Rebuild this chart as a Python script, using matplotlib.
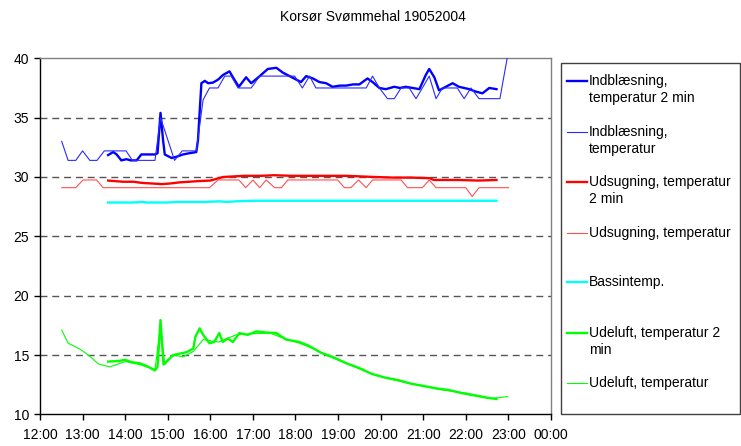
import matplotlib
matplotlib.use("Agg")
import matplotlib.pyplot as plt
from matplotlib.lines import Line2D
from matplotlib.patches import Rectangle
from matplotlib.ticker import FixedLocator, FuncFormatter

plt.rcParams['font.family'] = ['Liberation Sans', 'DejaVu Sans']

title = "Korsør Svømmehal 19052004"

# time in hours (12.5 = 12:30)
ind2_t = [13.60, 13.72, 13.80, 13.91, 14.03, 14.13, 14.27, 14.38, 14.55, 14.70, 14.76, 14.83, 14.89, 14.93,
          15.09, 15.20, 15.36, 15.50, 15.67, 15.71, 15.79, 15.87, 15.95, 16.06, 16.18, 16.30, 16.45, 16.53,
          16.67, 16.84, 16.96, 17.16, 17.35, 17.55, 17.70, 17.86, 18.02, 18.13, 18.25, 18.41, 18.56, 18.72,
          18.87, 19.05, 19.19, 19.35, 19.50, 19.69, 19.81, 19.97, 20.12, 20.32, 20.45, 20.59, 20.75, 20.91,
          21.06, 21.14, 21.26, 21.37, 21.53, 21.69, 21.84, 21.96, 22.08, 22.23, 22.39, 22.55, 22.72]
ind2_v = [31.85, 32.1, 31.9, 31.4, 31.5, 31.4, 31.4, 31.9, 31.9, 31.9, 32.0, 35.4, 33.1, 31.9,
          31.6, 31.7, 31.9, 32.0, 32.1, 33.1, 37.9, 38.1, 37.9, 37.95, 38.2, 38.6, 38.9, 38.4,
          37.6, 38.4, 37.9, 38.5, 39.1, 39.2, 38.8, 38.5, 38.2, 38.0, 38.5, 38.3, 38.0, 37.9,
          37.6, 37.7, 37.7, 37.8, 37.8, 38.3, 38.0, 37.5, 37.4, 37.6, 37.5, 37.6, 37.5, 37.4,
          38.6, 39.1, 38.4, 37.3, 37.6, 37.9, 37.6, 37.5, 37.4, 37.2, 37.05, 37.5, 37.4]

ind_t = [12.51, 12.66, 12.84, 13.00, 13.17, 13.34, 13.51, 14.02, 14.17, 14.70, 14.83, 15.16, 15.34,
         15.67, 15.83, 15.98, 16.18, 16.34, 16.49, 16.65, 16.96, 17.16, 17.98, 18.16, 18.33, 18.48,
         19.66, 19.81, 19.97, 20.16, 20.32, 20.48, 20.67, 20.83, 20.98, 21.14, 21.30, 21.45, 21.80,
         21.96, 22.12, 22.31, 22.80, 23.00]
ind_v = [33.0, 31.4, 31.4, 32.2, 31.4, 31.4, 32.2, 32.2, 31.4, 31.4, 35.0, 31.4, 32.2,
         32.2, 36.5, 37.5, 37.5, 38.5, 38.5, 37.5, 37.5, 38.5, 38.5, 37.5, 38.5, 37.5,
         37.5, 38.5, 37.5, 36.6, 36.6, 37.5, 37.5, 36.6, 37.5, 38.5, 36.6, 37.5, 37.5,
         36.6, 37.5, 36.6, 36.6, 40.6]

uds2_t = [13.60, 13.95, 14.20, 14.40, 14.65, 14.85, 15.05, 15.28, 15.50, 15.70, 16.00, 16.15, 16.30,
          16.55, 16.80, 17.20, 17.50, 17.90, 18.20, 18.70, 19.20, 19.85, 20.30, 20.70, 21.15, 21.25,
          21.80, 22.30, 22.72]
uds2_v = [29.7, 29.6, 29.6, 29.5, 29.45, 29.4, 29.45, 29.55, 29.6, 29.65, 29.7, 29.85, 30.0,
          30.05, 30.1, 30.1, 30.15, 30.1, 30.1, 30.1, 30.1, 30.0, 29.95, 29.95, 29.9, 29.75,
          29.75, 29.7, 29.75]

uds_t = [12.51, 12.84, 13.01, 13.33, 13.48, 15.98, 16.18, 16.67, 16.83, 17.00, 17.16, 17.31, 17.51,
         17.67, 17.82, 18.99, 19.15, 19.30, 19.48, 19.66, 19.81, 20.48, 20.63, 20.98, 21.14, 21.30,
         22.00, 22.15, 22.31, 23.00]
uds_v = [29.1, 29.1, 29.75, 29.75, 29.1, 29.1, 29.75, 29.75, 29.1, 29.75, 29.1, 29.75, 29.1,
         29.1, 29.75, 29.75, 29.1, 29.1, 29.75, 29.1, 29.75, 29.75, 29.1, 29.1, 29.75, 29.1,
         29.1, 28.35, 29.1, 29.1]

bas_t = [13.60, 14.20, 14.40, 14.50, 15.00, 15.20, 15.90, 16.20, 16.40, 16.60, 17.00, 22.72]
bas_v = [27.85, 27.85, 27.9, 27.85, 27.85, 27.9, 27.9, 27.95, 27.9, 27.95, 28.0, 28.0]

ude2_t = [13.60, 13.85, 14.00, 14.15, 14.35, 14.55, 14.70, 14.76, 14.83, 14.90, 15.13, 15.45, 15.60,
          15.65, 15.75, 15.83, 15.98, 16.09, 16.21, 16.29, 16.41, 16.53, 16.68, 16.88, 17.08, 17.30,
          17.55, 17.78, 18.09, 18.30, 18.60, 18.90, 19.20, 19.50, 19.80, 20.10, 20.40, 20.70, 21.00,
          21.30, 21.60, 21.90, 22.20, 22.50, 22.72]
ude2_v = [14.45, 14.5, 14.6, 14.4, 14.3, 14.0, 13.7, 14.0, 17.95, 14.2, 15.0, 15.25, 15.55,
          16.55, 17.25, 16.7, 16.0, 16.1, 16.85, 16.1, 16.4, 16.1, 16.85, 16.7, 17.0, 16.9,
          16.85, 16.3, 16.1, 15.8, 15.2, 14.8, 14.3, 13.9, 13.4, 13.1, 12.9, 12.6, 12.4,
          12.2, 12.05, 11.8, 11.6, 11.4, 11.3]

ude_t = [12.51, 12.66, 12.94, 13.17, 13.37, 13.64, 14.00, 14.34, 14.70, 14.83, 14.93, 15.13, 15.36,
         15.60, 15.83, 16.20, 16.60, 17.00, 17.40, 17.62, 18.09, 18.41, 18.64, 19.19, 19.73, 20.20,
         20.75, 21.37, 22.00, 22.62, 22.98]
ude_v = [17.1, 16.0, 15.5, 14.9, 14.25, 14.0, 14.45, 14.2, 13.75, 17.5, 14.2, 15.0, 14.85,
         15.3, 16.3, 16.1, 16.7, 16.8, 16.85, 16.55, 16.0, 15.55, 15.1, 14.3, 13.5, 13.0,
         12.55, 12.1, 11.8, 11.35, 11.5]

labels = ["Indblæsning,\ntemperatur 2 min", "Indblæsning,\ntemperatur",
          "Udsugning, temperatur\n2 min", "Udsugning, temperatur",
          "Bassintemp.", "Udeluft, temperatur 2\nmin", "Udeluft, temperatur"]

x_ticks = list(range(12, 25))
y_ticks = [10, 15, 20, 25, 30, 35, 40]

W, H = 741, 446
fig = plt.figure(figsize=(W / 100, H / 100), dpi=100)
ax = fig.add_axes([40 / W, 1 - 414.4 / H, (551 - 40) / W, (414.4 - 58.3) / H])

series = [
    (ind2_t, ind2_v, '#0000ff', 1.7),
    (ind_t, ind_v, '#2a2aff', 0.8),
    (uds2_t, uds2_v, '#ff0000', 1.7),
    (uds_t, uds_v, '#ff5050', 0.8),
    (bas_t, bas_v, '#00ffff', 1.7),
    (ude2_t, ude2_v, '#00ff00', 1.7),
    (ude_t, ude_v, '#00ff00', 0.8),
]

for yv in y_ticks[1:-1]:
    ax.axhline(yv, color='#555555', lw=1.0, dashes=(5, 3.5), zorder=1)

for t, v, c, lw in series:
    ax.plot(t, v, color=c, lw=lw, zorder=3, solid_joinstyle='round')

ax.set_xlim(12, 24)
ax.set_ylim(10, 40)
ax.xaxis.set_major_locator(FixedLocator(x_ticks))
ax.xaxis.set_major_formatter(FuncFormatter(lambda x, p: "%02d:00" % (int(round(x)) % 24)))
ax.yaxis.set_major_locator(FixedLocator(y_ticks))
ax.tick_params(axis='x', direction='out', length=4, width=1, pad=6, labelsize=10)
ax.tick_params(axis='y', direction='out', length=4, width=1, pad=4, labelsize=10)
for s in ['left', 'bottom']:
    ax.spines[s].set_color('black')
    ax.spines[s].set_linewidth(1)
for s in ['top', 'right']:
    ax.spines[s].set_color('#808080')
    ax.spines[s].set_linewidth(1)

fig.text(373 / W, 1 - 17 / H, title, ha='center', va='center', fontsize=10)

# legend drawn in figure pixel coordinates
fig.patches.append(Rectangle((561 / W, 1 - 414 / H), (740 - 561) / W, (414 - 63) / H,
                             transform=fig.transFigure, fill=False, edgecolor='#404040', lw=1))
entry_y = [81, 131.7, 181.7, 232.7, 281.7, 333, 383]
for (t, v, c, lw), lab, yy in zip(series, labels, entry_y):
    fig.lines.append(Line2D([566.5 / W, 586.5 / W], [1 - yy / H, 1 - yy / H],
                            transform=fig.transFigure, color=c, lw=lw))
    for i, line in enumerate(lab.split("\n")):
        fig.text(589 / W, 1 - (yy + 17 * i) / H, line, ha='left', va='center', fontsize=10)

fig.savefig("out.png", dpi=100)
